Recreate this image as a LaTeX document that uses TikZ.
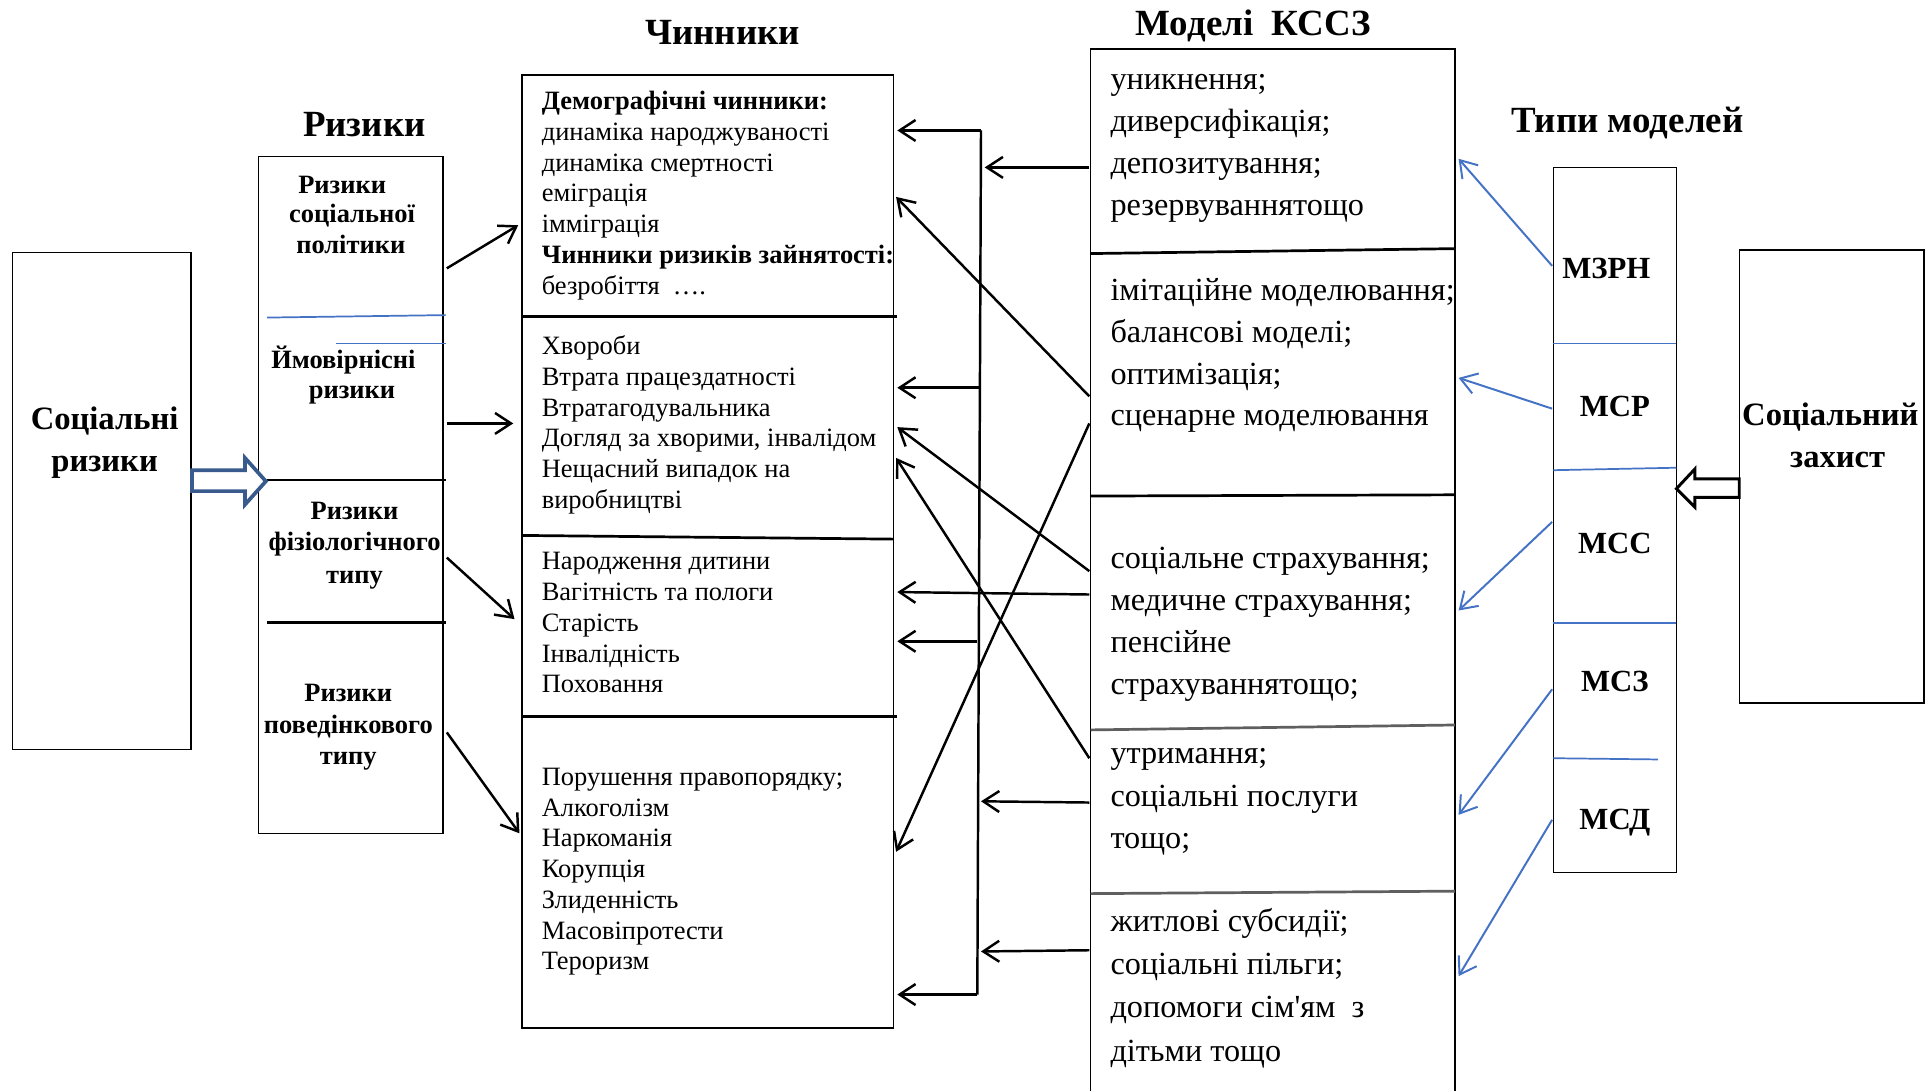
\documentclass[tikz,border=0pt]{standalone}
\usepackage{fontspec}
\setmainfont{Liberation Serif}
\usetikzlibrary{arrows.meta}
\definecolor{lblue}{RGB}{68,114,196}
\definecolor{dblue}{RGB}{56,90,140}
\definecolor{lgrey}{RGB}{95,95,95}
\tikzset{
 boxn/.style={draw=black, line width=1.2pt, inner sep=0pt, outer sep=0pt, anchor=north west},
 sepk/.style={draw=black, line width=2.2pt},
 sepg/.style={draw=lgrey, line width=2.2pt},
 sepb/.style={draw=lblue, line width=1.4pt},
 arr/.style={draw=black, line width=2pt, -{Straight Barb[length=13pt,width=17pt]}},
 barr/.style={draw=lblue, line width=1.6pt, -{Straight Barb[length=13pt,width=17pt]}},
 bus/.style={draw=black, line width=2pt},
 ttl/.style={font=\fontsize{30}{36}\selectfont\bfseries, anchor=base, inner sep=0pt},
 lbl/.style={font=\fontsize{21.5}{25}\selectfont\bfseries, anchor=base, inner sep=0pt},
 chtxt/.style={font=\fontsize{21.5}{25}\selectfont, anchor=base west, inner sep=0pt},
 mdtxt/.style={font=\fontsize{26.2}{34}\selectfont, anchor=base west, inner sep=0pt},
 typ/.style={font=\fontsize{25}{30}\selectfont\bfseries, anchor=base, inner sep=0pt},
 bigl/.style={font=\fontsize{26.5}{34}\selectfont\bfseries, anchor=base, inner sep=0pt},
}
\begin{document}
\begin{tikzpicture}[x=1pt,y=-1pt]
\useasboundingbox[fill=white] (0,0) rectangle (1568,886);

% ---------- boxes
\node[boxn, minimum width=145pt, minimum height=404pt] (sr) at (10,205) {};
\node[boxn, minimum width=150pt, minimum height=550pt] (rz) at (210,127) {};
\node[boxn, minimum width=302pt, minimum height=774pt] (ch) at (424,61) {};
\node[boxn, minimum width=296pt, minimum height=870pt] (md) at (886,40) {};
\node[boxn, minimum width=100pt, minimum height=573pt] (tp) at (1262,136) {};
\node[boxn, minimum width=150pt, minimum height=368pt] (sz) at (1413,203) {};

% ---------- titles
\node[ttl] (t1) at (296,111) {Ризики};
\node[ttl] (t2) at (587,36) {Чинники};
\node[ttl] (t3) at (1018,29) {Моделі\ \ КССЗ};
\node[ttl] (t4) at (1322,108) {Типи моделей};

% ---------- left box
\node[bigl] (sr1) at (85,349) {Соціальні};
\node[bigl] (sr2) at (85,383) {ризики};

% ---------- risks column
\node[lbl] (r1a) at (278,157) {Ризики};
\node[lbl] (r1b) at (286,181) {соціальної};
\node[lbl] (r1c) at (285,206) {політики};
\node[lbl] (r2a) at (279,299) {Ймовірнісні};
\node[lbl] (r2b) at (286,324) {ризики};
\node[lbl] (r3a) at (288,422) {Ризики};
\node[lbl] (r3b) at (288,447) {фізіологічного};
\node[lbl] (r3c) at (288,474) {типу};
\node[lbl] (r4a) at (283,570) {Ризики};
\node[lbl] (r4b) at (283,596) {поведінкового};
\node[lbl] (r4c) at (283,621) {типу};
\draw[sepb] (217,258) -- (362,256);
\draw[sepb] (273,279) -- (362,279);
\draw[sepk] (217,390) -- (362,390);
\draw[sepk] (217,506) -- (362,506);

% ---------- factors
\foreach \t [count=\i] in {{\textbf{Демографічні чинники:}},динаміка народжуваності,динаміка смертності,еміграція,імміграція,{\textbf{Чинники ризиків зайнятості:}},{безробіття\ \ ….}}
  \node[chtxt] (ca\i) at (440,{64+25*\i}) {\t};
\foreach \t [count=\i] in {Хвороби,Втрата працездатності,Втратагодувальника,{Догляд за хворими, інвалідом},Нещасний випадок на,виробництві}
  \node[chtxt] (cb\i) at (440,{263+25*\i}) {\t};
\foreach \t [count=\i] in {Народження дитини,Вагітність та пологи,Старість,Інвалідність,Поховання}
  \node[chtxt] (cc\i) at (440,{438+25*\i}) {\t};
\foreach \t [count=\i] in {Порушення правопорядку;,Алкоголізм,Наркоманія,Корупція,Злиденність,Масовіпротести,Тероризм}
  \node[chtxt] (cd\i) at (440,{613+25*\i}) {\t};
\draw[sepk] (424,257) -- (729,257);
\draw[sepk] (424,435) -- (726,438);
\draw[sepk] (424,582) -- (729,582);

% ---------- models
\foreach \t [count=\i] in {уникнення;,диверсифікація;,депозитування;,резервуваннятощо}
  \node[mdtxt] (ma\i) at (902,{39+34*\i}) {\t};
\foreach \t [count=\i] in {імітаційне моделювання;,балансові моделі;,оптимізація;,сценарне моделювання}
  \node[mdtxt] (mb\i) at (902,{210+34*\i}) {\t};
\foreach \t [count=\i] in {соціальне страхування;,медичне страхування;,пенсійне,страхуваннятощо;}
  \node[mdtxt] (mc\i) at (902,{428+34*\i}) {\t};
\foreach \t [count=\i] in {утримання;,соціальні послуги,тощо;}
  \node[mdtxt] (mdd\i) at (902,{586+34.5*\i}) {\t};
\foreach \t [count=\i] in {житлові субсидії;,соціальні пільги;,{допомоги сім\textquotesingle ям\ \ з},дітьми тощо}
  \node[mdtxt] (me\i) at (902,{722+35*\i}) {\t};
\draw[sepk] (886,206) -- (1182,202);
\draw[sepk] (886,403) -- (1182,402);
\draw[sepg] (886,593) -- (1182,589);
\draw[sepg] (886,726) -- (1182,724);

% ---------- model types
\node[typ] (m1) at (1305,226) {МЗРН};
\node[typ] (m2) at (1312,338) {МСР};
\node[typ] (m3) at (1312,450) {МСС};
\node[typ] (m4) at (1312,562) {МСЗ};
\node[typ] (m5) at (1312,674) {МСД};
\draw[sepb] (1262,279) -- (1362,279);
\draw[sepb] (1262,382) -- (1362,380);
\draw[sepb] (1262,506) -- (1362,506);
\draw[sepb] (1262,616) -- (1347,617);

% ---------- social protection
\node[bigl] (sz1) at (1487,346) {Соціальний};
\node[bigl] (sz2) at (1493,380) {захист};

% ---------- hollow arrows
\draw[draw=dblue, line width=3pt, fill=white, line join=miter]
  (156,382) -- (199,382) -- (199,372) -- (216,391) -- (199,410) -- (199,399) -- (156,399) -- cycle;
\draw[draw=black, line width=2.4pt, fill=white, line join=miter]
  (1413,389) -- (1377,389) -- (1377,381) -- (1362,397) -- (1377,412) -- (1377,404) -- (1413,404) -- cycle;

% ---------- risks -> factors
\coordinate (ra) at (363,218); \coordinate (ca) at (421,183);
\coordinate (rb) at (363,344); \coordinate (cb) at (417,344);
\coordinate (rc) at (363,453); \coordinate (cc) at (418,503);
\coordinate (rd) at (363,595); \coordinate (cd) at (422,677);
\draw[arr] (ra) -- (ca);
\draw[arr] (rb) -- (cb);
\draw[arr] (rc) -- (cc);
\draw[arr] (rd) -- (cd);

% ---------- bus
\coordinate (bt) at (797,106);
\coordinate (b2) at (796,315);
\coordinate (b3) at (794,521);
\coordinate (bb) at (794,808);
\draw[bus] (bt) -- (bb);
\coordinate (k1) at (729,106);
\coordinate (k2) at (729,315);
\coordinate (k3) at (729,521);
\coordinate (k4) at (729,808);
\draw[arr] (bt) -- (k1);
\draw[arr] (b2) -- (k2);
\draw[arr] (b3) -- (k3);
\draw[arr] (bb) -- (k4);
\coordinate (ma) at (885,136); \coordinate (ba) at (800,136);
\coordinate (mdp) at (885,652); \coordinate (bd) at (797,651);
\coordinate (me) at (885,772); \coordinate (be) at (797,773);
\draw[arr] (ma) -- (ba);
\draw[arr] (mdp) -- (bd);
\draw[arr] (me) -- (be);

% ---------- models -> factors (direct)
\coordinate (mh) at (885,483); \coordinate (kh) at (729,481);
\draw[arr] (mh) -- (kh);
\coordinate (m1s) at (885,322); \coordinate (m1e) at (728,160);
\coordinate (m2s) at (885,344); \coordinate (m2e) at (728,692);
\coordinate (m3s) at (885,464); \coordinate (m3e) at (729,347);
\coordinate (m4s) at (885,616); \coordinate (m4e) at (728,372);
\draw[arr] (m1s) -- (m1e);
\draw[arr] (m2s) -- (m2e);
\draw[arr] (m3s) -- (m3e);
\draw[arr] (m4s) -- (m4e);

% ---------- types -> models
\coordinate (p1) at (1261,216); \coordinate (q1) at (1185,129);
\coordinate (p2) at (1261,332); \coordinate (q2) at (1185,307);
\coordinate (p3) at (1261,424); \coordinate (q3) at (1185,496);
\coordinate (p4) at (1261,560); \coordinate (q4) at (1185,662);
\coordinate (p5) at (1261,666); \coordinate (q5) at (1185,793);
\draw[barr] (p1) -- (q1);
\draw[barr] (p2) -- (q2);
\draw[barr] (p3) -- (q3);
\draw[barr] (p4) -- (q4);
\draw[barr] (p5) -- (q5);
\end{tikzpicture}
\end{document}
